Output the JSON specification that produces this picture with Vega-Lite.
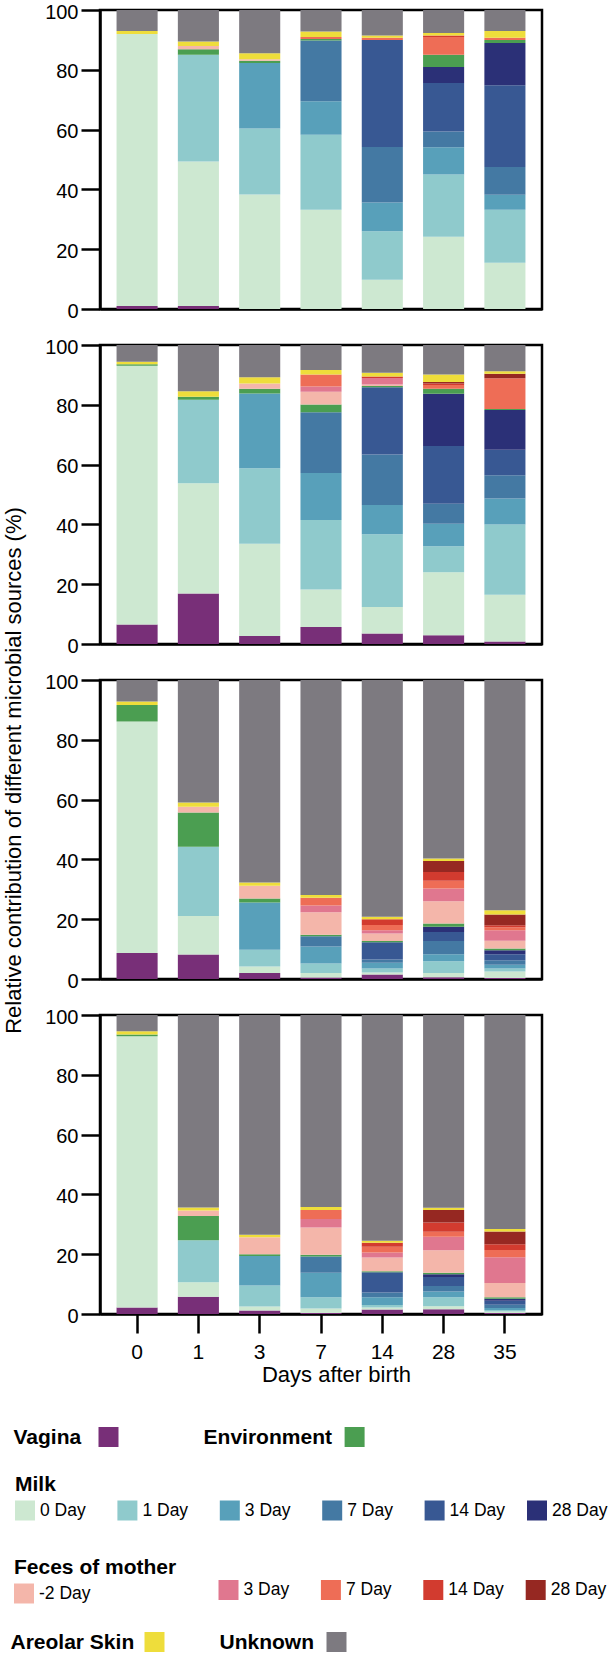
{
  "$schema": "https://vega.github.io/schema/vega-lite/v6.json",
  "usermeta": {"embedOptions": {"actions": false}},
  "background": "white",
  "padding": {"left": 0, "top": 0, "right": 0, "bottom": 0},
  "datasets": {
    "bars": [
      {"panel":1,"day":0,"V":1,"M0":91,"A":1,"U":7},
      {"panel":1,"day":1,"V":1,"M0":48.3,"M1":35.7,"E":1.9,"F2":1.1,"A":1.5,"U":10.5},
      {"panel":1,"day":3,"M0":38.3,"M1":22.1,"M3":21.9,"E":0.7,"F2":0.5,"A":2,"U":14.5},
      {"panel":1,"day":7,"M0":33.2,"M1":25.1,"M3":11.2,"M7":20.3,"E":0.5,"F7":0.7,"A":1.8,"U":7.2},
      {"panel":1,"day":14,"M0":9.8,"M1":16.2,"M3":9.6,"M7":18.6,"M14":35.8,"F7":0.7,"A":0.8,"U":8.5},
      {"panel":1,"day":28,"M0":24.2,"M1":20.8,"M3":9.1,"M7":5.3,"M14":16.2,"M28":5.3,"E":4.1,"F7":6,"F14":0.5,"A":0.8,"U":7.7},
      {"panel":1,"day":35,"M0":15.5,"M1":17.7,"M3":5,"M7":9.3,"M14":27.3,"M28":14.2,"E":1,"F7":0.7,"A":2.3,"U":7},
      {"panel":2,"day":0,"V":6.5,"M0":86.6,"E":0.5,"A":0.8,"U":5.6},
      {"panel":2,"day":1,"V":16.9,"M0":36.9,"M1":27.9,"E":1,"A":1.8,"U":15.5},
      {"panel":2,"day":3,"V":2.7,"M0":30.8,"M1":25.3,"M3":25,"E":1.6,"F2":1.7,"A":2.1,"U":10.8},
      {"panel":2,"day":7,"V":5.7,"M0":12.5,"M1":23.3,"M3":15.7,"M7":20.3,"E":2.6,"F2":4.3,"F3":1.7,"F7":4,"A":1.5,"U":8.4},
      {"panel":2,"day":14,"V":3.5,"M0":8.9,"M1":24.3,"M3":9.8,"M7":16.9,"M14":22.5,"E":0.4,"F2":0.5,"F3":2.2,"F14":0.5,"A":1.2,"U":9.3},
      {"panel":2,"day":28,"V":2.9,"M0":21.1,"M1":8.7,"M3":7.5,"M7":6.7,"M14":19.3,"M28":17.5,"E":1.7,"F7":1.2,"F14":0.5,"F28":0.5,"A":2.5,"U":9.9},
      {"panel":2,"day":35,"V":0.8,"M0":15.7,"M1":23.5,"M3":8.7,"M7":7.7,"M14":8.6,"M28":13.3,"E":0.3,"F7":10.3,"F28":1.5,"A":0.8,"U":8.8},
      {"panel":3,"day":0,"V":8.7,"M0":77.4,"E":5.5,"A":1.2,"U":7.2},
      {"panel":3,"day":1,"V":8.2,"M0":12.9,"M1":23.1,"E":11.5,"F2":1.9,"A":1.4,"U":41},
      {"panel":3,"day":3,"V":2,"M0":2.2,"M1":5.6,"M3":15.8,"E":1.3,"F2":4.3,"A":1.1,"U":67.7},
      {"panel":3,"day":7,"V":0.5,"M0":1.5,"M1":3.2,"M3":5.7,"M7":3.4,"E":0.5,"F2":7.5,"F3":2.3,"F7":2.6,"A":0.9,"U":71.9},
      {"panel":3,"day":14,"V":1.5,"M0":0.7,"M1":1.3,"M3":1.9,"M7":1.1,"M14":5.8,"E":0.4,"F2":2.5,"F3":1.1,"F7":1.8,"F14":1.9,"A":0.8,"U":79.2},
      {"panel":3,"day":28,"V":0.6,"M0":1.4,"M1":3.9,"M3":2.4,"M7":4.4,"M14":3,"M28":1.8,"E":1.1,"F2":7.4,"F3":4.3,"F7":2.6,"F14":2.9,"F28":3.7,"A":0.8,"U":59.7},
      {"panel":3,"day":35,"V":0.3,"M0":2.2,"M1":1,"M3":1.3,"M7":1.5,"M14":2,"M28":1.3,"E":0.6,"F2":2.6,"F3":3.5,"F7":1,"F14":0.7,"F28":3.6,"A":1.4,"U":77},
      {"panel":4,"day":0,"V":2.2,"M0":90.7,"E":0.6,"A":1.1,"U":5.4},
      {"panel":4,"day":1,"V":5.8,"M0":4.8,"M1":14.1,"E":8.1,"F2":1.8,"A":1,"U":64.4},
      {"panel":4,"day":3,"V":1.2,"M0":1.3,"M1":7,"M3":9.9,"E":0.6,"F2":5.7,"A":0.8,"U":73.5},
      {"panel":4,"day":7,"V":0.3,"M0":1.5,"M1":3.8,"M3":8.2,"M7":5.4,"E":0.6,"F2":9.1,"F3":2.9,"F7":3,"A":1,"U":64.2},
      {"panel":4,"day":14,"V":1.5,"M0":0.7,"M1":0.8,"M3":2.6,"M7":1.6,"M14":6.8,"E":0.3,"F2":4.6,"F3":1.7,"F7":1.9,"F14":1.3,"A":0.7,"U":75.5},
      {"panel":4,"day":28,"V":1.6,"M0":1,"M1":3,"M3":1.9,"M7":1.9,"M14":3,"M28":0.9,"E":0.5,"F2":7.5,"F3":4.5,"F7":1.7,"F14":3.1,"F28":4.2,"A":0.7,"U":64.5},
      {"panel":4,"day":35,"V":0.3,"M0":0.5,"M1":0.5,"M3":0.7,"M7":1.1,"M14":1.3,"M28":0.7,"E":0.5,"F2":4.8,"F3":8.6,"F7":2.4,"F14":1.9,"F28":4.3,"A":0.8,"U":71.6}
    ],
    "sources": [
      {"s":"V","rank":1,"grp":"V","lbl":"Vagina"},
      {"s":"M0","rank":2,"grp":"M","lbl":"0 Day"},
      {"s":"M1","rank":3,"grp":"M","lbl":"1 Day"},
      {"s":"M3","rank":4,"grp":"M","lbl":"3 Day"},
      {"s":"M7","rank":5,"grp":"M","lbl":"7 Day"},
      {"s":"M14","rank":6,"grp":"M","lbl":"14 Day"},
      {"s":"M28","rank":7,"grp":"M","lbl":"28 Day"},
      {"s":"E","rank":8,"grp":"E","lbl":"Environment"},
      {"s":"F2","rank":9,"grp":"F2","lbl":"-2 Day"},
      {"s":"F3","rank":10,"grp":"F","lbl":"3 Day"},
      {"s":"F7","rank":11,"grp":"F","lbl":"7 Day"},
      {"s":"F14","rank":12,"grp":"F","lbl":"14 Day"},
      {"s":"F28","rank":13,"grp":"F","lbl":"28 Day"},
      {"s":"A","rank":14,"grp":"A","lbl":"Areolar Skin"},
      {"s":"U","rank":15,"grp":"U","lbl":"Unknown"}
    ]
  },
  "data": {"name": "bars"},
  "bounds": "flush",
  "spacing": 36,
  "vconcat": [
    {
      "width": 442, "height": 299,
      "transform": [
        {"filter": {"field": "panel", "equal": 1}},
        {"fold": ["V","M0","M1","M3","M7","M14","M28","E","F2","F3","F7","F14","F28","A","U"], "as": ["s","value"]},
        {"filter": {"field": "value", "gt": 0}},
        {"lookup": "s", "from": {"data": {"name": "sources"}, "key": "s", "fields": ["rank","grp","lbl"]}},
        {"stack": "value", "groupby": ["day"], "sort": [{"field": "rank", "order": "ascending"}], "as": ["y0","y1"]}
      ],
      "encoding": {
        "x": {"field": "day", "type": "ordinal", "scale": {"paddingInner": 0.33, "paddingOuter": 0.27}, "axis": {"labels": false, "ticks": false, "title": null}},
        "y": {"field": "y0", "type": "quantitative", "scale": {"domain": [0,100], "nice": false}, "axis": {"values": [0,20,40,60,80,100], "title": null}},
        "y2": {"field": "y1"}
      },
      "layer": [
        {"transform": [{"filter": {"field": "grp", "equal": "V"}}], "mark": "bar", "encoding": {"color": {"field": "lbl", "type": "nominal", "scale": {"domain": ["Vagina"], "range": ["#782F78"]}, "legend": null}}},
        {"transform": [{"filter": {"field": "grp", "equal": "M"}}], "mark": "bar", "encoding": {"color": {"field": "lbl", "type": "nominal", "scale": {"domain": ["0 Day","1 Day","3 Day","7 Day","14 Day","28 Day"], "range": ["#CDE8D1","#8FCACC","#58A0BA","#4479A3","#385893","#2B3077"]}, "legend": null}}},
        {"transform": [{"filter": {"field": "grp", "equal": "E"}}], "mark": "bar", "encoding": {"color": {"field": "lbl", "type": "nominal", "scale": {"domain": ["Environment"], "range": ["#4B9E51"]}, "legend": null}}},
        {"transform": [{"filter": {"field": "grp", "equal": "F2"}}], "mark": "bar", "encoding": {"color": {"field": "lbl", "type": "nominal", "scale": {"domain": ["-2 Day"], "range": ["#F4B6AA"]}, "legend": null}}},
        {"transform": [{"filter": {"field": "grp", "equal": "F"}}], "mark": "bar", "encoding": {"color": {"field": "lbl", "type": "nominal", "scale": {"domain": ["3 Day","7 Day","14 Day","28 Day"], "range": ["#E0778F","#EE6D56","#D23B2F","#962822"]}, "legend": null}}},
        {"transform": [{"filter": {"field": "grp", "equal": "A"}}], "mark": "bar", "encoding": {"color": {"field": "lbl", "type": "nominal", "scale": {"domain": ["Areolar Skin"], "range": ["#EEDD3B"]}, "legend": null}}},
        {"transform": [{"filter": {"field": "grp", "equal": "U"}}], "mark": "bar", "encoding": {"color": {"field": "lbl", "type": "nominal", "scale": {"domain": ["Unknown"], "range": ["#7D7A80"]}, "legend": null}}}
      ],
      "resolve": {"scale": {"color": "independent"}, "legend": {"color": "independent"}}
    },
    {
      "width": 442, "height": 299,
      "transform": [
        {"filter": {"field": "panel", "equal": 2}},
        {"fold": ["V","M0","M1","M3","M7","M14","M28","E","F2","F3","F7","F14","F28","A","U"], "as": ["s","value"]},
        {"filter": {"field": "value", "gt": 0}},
        {"lookup": "s", "from": {"data": {"name": "sources"}, "key": "s", "fields": ["rank","grp","lbl"]}},
        {"stack": "value", "groupby": ["day"], "sort": [{"field": "rank", "order": "ascending"}], "as": ["y0","y1"]}
      ],
      "encoding": {
        "x": {"field": "day", "type": "ordinal", "scale": {"paddingInner": 0.33, "paddingOuter": 0.27}, "axis": {"labels": false, "ticks": false, "title": null}},
        "y": {"field": "y0", "type": "quantitative", "scale": {"domain": [0,100], "nice": false}, "axis": {"values": [0,20,40,60,80,100], "title": null}},
        "y2": {"field": "y1"}
      },
      "layer": [
        {"transform": [{"filter": {"field": "grp", "equal": "V"}}], "mark": "bar", "encoding": {"color": {"field": "lbl", "type": "nominal", "scale": {"domain": ["Vagina"], "range": ["#782F78"]}, "legend": null}}},
        {"transform": [{"filter": {"field": "grp", "equal": "M"}}], "mark": "bar", "encoding": {"color": {"field": "lbl", "type": "nominal", "scale": {"domain": ["0 Day","1 Day","3 Day","7 Day","14 Day","28 Day"], "range": ["#CDE8D1","#8FCACC","#58A0BA","#4479A3","#385893","#2B3077"]}, "legend": null}}},
        {"transform": [{"filter": {"field": "grp", "equal": "E"}}], "mark": "bar", "encoding": {"color": {"field": "lbl", "type": "nominal", "scale": {"domain": ["Environment"], "range": ["#4B9E51"]}, "legend": null}}},
        {"transform": [{"filter": {"field": "grp", "equal": "F2"}}], "mark": "bar", "encoding": {"color": {"field": "lbl", "type": "nominal", "scale": {"domain": ["-2 Day"], "range": ["#F4B6AA"]}, "legend": null}}},
        {"transform": [{"filter": {"field": "grp", "equal": "F"}}], "mark": "bar", "encoding": {"color": {"field": "lbl", "type": "nominal", "scale": {"domain": ["3 Day","7 Day","14 Day","28 Day"], "range": ["#E0778F","#EE6D56","#D23B2F","#962822"]}, "legend": null}}},
        {"transform": [{"filter": {"field": "grp", "equal": "A"}}], "mark": "bar", "encoding": {"color": {"field": "lbl", "type": "nominal", "scale": {"domain": ["Areolar Skin"], "range": ["#EEDD3B"]}, "legend": null}}},
        {"transform": [{"filter": {"field": "grp", "equal": "U"}}], "mark": "bar", "encoding": {"color": {"field": "lbl", "type": "nominal", "scale": {"domain": ["Unknown"], "range": ["#7D7A80"]}, "legend": null}}}
      ],
      "resolve": {"scale": {"color": "independent"}, "legend": {"color": "independent"}}
    },
    {
      "width": 442, "height": 299,
      "transform": [
        {"filter": {"field": "panel", "equal": 3}},
        {"fold": ["V","M0","M1","M3","M7","M14","M28","E","F2","F3","F7","F14","F28","A","U"], "as": ["s","value"]},
        {"filter": {"field": "value", "gt": 0}},
        {"lookup": "s", "from": {"data": {"name": "sources"}, "key": "s", "fields": ["rank","grp","lbl"]}},
        {"stack": "value", "groupby": ["day"], "sort": [{"field": "rank", "order": "ascending"}], "as": ["y0","y1"]}
      ],
      "encoding": {
        "x": {"field": "day", "type": "ordinal", "scale": {"paddingInner": 0.33, "paddingOuter": 0.27}, "axis": {"labels": false, "ticks": false, "title": null}},
        "y": {"field": "y0", "type": "quantitative", "scale": {"domain": [0,100], "nice": false}, "axis": {"values": [0,20,40,60,80,100], "title": "Relative contribution of different microbial sources (%)", "titleX": -75, "titleY": 90}},
        "y2": {"field": "y1"}
      },
      "layer": [
        {"transform": [{"filter": {"field": "grp", "equal": "V"}}], "mark": "bar", "encoding": {"color": {"field": "lbl", "type": "nominal", "scale": {"domain": ["Vagina"], "range": ["#782F78"]}, "legend": null}}},
        {"transform": [{"filter": {"field": "grp", "equal": "M"}}], "mark": "bar", "encoding": {"color": {"field": "lbl", "type": "nominal", "scale": {"domain": ["0 Day","1 Day","3 Day","7 Day","14 Day","28 Day"], "range": ["#CDE8D1","#8FCACC","#58A0BA","#4479A3","#385893","#2B3077"]}, "legend": null}}},
        {"transform": [{"filter": {"field": "grp", "equal": "E"}}], "mark": "bar", "encoding": {"color": {"field": "lbl", "type": "nominal", "scale": {"domain": ["Environment"], "range": ["#4B9E51"]}, "legend": null}}},
        {"transform": [{"filter": {"field": "grp", "equal": "F2"}}], "mark": "bar", "encoding": {"color": {"field": "lbl", "type": "nominal", "scale": {"domain": ["-2 Day"], "range": ["#F4B6AA"]}, "legend": null}}},
        {"transform": [{"filter": {"field": "grp", "equal": "F"}}], "mark": "bar", "encoding": {"color": {"field": "lbl", "type": "nominal", "scale": {"domain": ["3 Day","7 Day","14 Day","28 Day"], "range": ["#E0778F","#EE6D56","#D23B2F","#962822"]}, "legend": null}}},
        {"transform": [{"filter": {"field": "grp", "equal": "A"}}], "mark": "bar", "encoding": {"color": {"field": "lbl", "type": "nominal", "scale": {"domain": ["Areolar Skin"], "range": ["#EEDD3B"]}, "legend": null}}},
        {"transform": [{"filter": {"field": "grp", "equal": "U"}}], "mark": "bar", "encoding": {"color": {"field": "lbl", "type": "nominal", "scale": {"domain": ["Unknown"], "range": ["#7D7A80"]}, "legend": null}}}
      ],
      "resolve": {"scale": {"color": "independent"}, "legend": {"color": "independent"}}
    },
    {
      "width": 442, "height": 299,
      "transform": [
        {"filter": {"field": "panel", "equal": 4}},
        {"fold": ["V","M0","M1","M3","M7","M14","M28","E","F2","F3","F7","F14","F28","A","U"], "as": ["s","value"]},
        {"filter": {"field": "value", "gt": 0}},
        {"lookup": "s", "from": {"data": {"name": "sources"}, "key": "s", "fields": ["rank","grp","lbl"]}},
        {"stack": "value", "groupby": ["day"], "sort": [{"field": "rank", "order": "ascending"}], "as": ["y0","y1"]}
      ],
      "encoding": {
        "x": {"field": "day", "type": "ordinal", "scale": {"paddingInner": 0.33, "paddingOuter": 0.27}, "axis": {"labelAngle": 0, "title": "Days after birth", "titleX": 236}},
        "y": {"field": "y0", "type": "quantitative", "scale": {"domain": [0,100], "nice": false}, "axis": {"values": [0,20,40,60,80,100], "title": null}},
        "y2": {"field": "y1"}
      },
      "layer": [
        {"transform": [{"filter": {"field": "grp", "equal": "V"}}], "mark": "bar", "encoding": {"color": {"field": "lbl", "type": "nominal", "scale": {"domain": ["Vagina"], "range": ["#782F78"]}, "legend": {"title": "Vagina", "titleOrient": "left", "titlePadding": 17, "labelExpr": "''", "legendX": -86.5, "legendY": 412}}}},
        {"transform": [{"filter": {"field": "grp", "equal": "M"}}], "mark": "bar", "encoding": {"color": {"field": "lbl", "type": "nominal", "scale": {"domain": ["0 Day","1 Day","3 Day","7 Day","14 Day","28 Day"], "range": ["#CDE8D1","#8FCACC","#58A0BA","#4479A3","#385893","#2B3077"]}, "legend": {"title": "Milk", "columns": 6, "legendX": -85, "legendY": 458.5}}}},
        {"transform": [{"filter": {"field": "grp", "equal": "E"}}], "mark": "bar", "encoding": {"color": {"field": "lbl", "type": "nominal", "scale": {"domain": ["Environment"], "range": ["#4B9E51"]}, "legend": {"title": "Environment", "titleOrient": "left", "titlePadding": 12, "labelExpr": "''", "legendX": 103.6, "legendY": 412}}}},
        {"transform": [{"filter": {"field": "grp", "equal": "F2"}}], "mark": "bar", "encoding": {"color": {"field": "lbl", "type": "nominal", "scale": {"domain": ["-2 Day"], "range": ["#F4B6AA"]}, "legend": {"title": "Feces of mother", "legendX": -86, "legendY": 541.5}}}},
        {"transform": [{"filter": {"field": "grp", "equal": "F"}}], "mark": "bar", "encoding": {"color": {"field": "lbl", "type": "nominal", "scale": {"domain": ["3 Day","7 Day","14 Day","28 Day"], "range": ["#E0778F","#EE6D56","#D23B2F","#962822"]}, "legend": {"title": null, "columns": 4, "legendX": 118.5, "legendY": 565}}}},
        {"transform": [{"filter": {"field": "grp", "equal": "A"}}], "mark": "bar", "encoding": {"color": {"field": "lbl", "type": "nominal", "scale": {"domain": ["Areolar Skin"], "range": ["#EEDD3B"]}, "legend": {"title": "Areolar Skin", "titleOrient": "left", "titlePadding": 10, "labelExpr": "''", "legendX": -89.5, "legendY": 617}}}},
        {"transform": [{"filter": {"field": "grp", "equal": "U"}}], "mark": "bar", "encoding": {"color": {"field": "lbl", "type": "nominal", "scale": {"domain": ["Unknown"], "range": ["#7D7A80"]}, "legend": {"title": "Unknown", "titleOrient": "left", "titlePadding": 12, "labelExpr": "''", "legendX": 119.5, "legendY": 617}}}}
      ],
      "resolve": {"scale": {"color": "independent"}, "legend": {"color": "independent"}}
    }
  ],
  "resolve": {"scale": {"color": "independent"}, "legend": {"color": "independent"}},
  "config": {
    "font": "Liberation Sans",
    "view": {"stroke": "#000000", "strokeWidth": 2.5},
    "axis": {"domainColor": "#000000", "domainWidth": 2.5, "tickColor": "#000000", "tickWidth": 2.5, "tickSize": 19, "labelColor": "#000000", "labelFontSize": 20, "labelPadding": 3, "labelFlush": false, "grid": false, "titleColor": "#000000", "titleFontSize": 22, "titleFontWeight": "normal"},
    "axisY": {"labelOffset": 2},
    "axisX": {"labelFontSize": 21, "labelPadding": 8, "titlePadding": 2},
    "legend": {"orient": "none", "direction": "horizontal", "symbolType": "square", "symbolSize": 400, "symbolStrokeWidth": 0, "symbolOpacity": 1, "labelFontSize": 17.5, "labelColor": "#000000", "labelOffset": 5, "labelLimit": 200, "titleFontSize": 21, "titleFontWeight": "bold", "titleColor": "#000000", "titleAnchor": "start", "titlePadding": 6, "titleLimit": 300, "padding": 0, "columnPadding": 21.4, "rowPadding": 0, "gridAlign": "all"}
  }
}
